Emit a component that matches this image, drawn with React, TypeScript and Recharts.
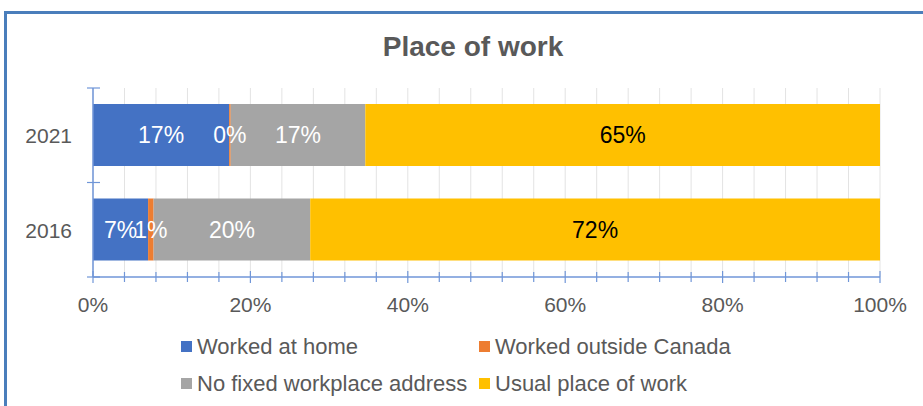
import * as React from 'react';
import {
  BarChart,
  Bar,
  XAxis,
  YAxis,
  CartesianGrid,
  LabelList,
} from 'recharts';

// values (percent of workers)
const YEARS = ['2021', '2016'];
const HOME = [17.3, 7.0];
const OUTSIDE = [0.2, 0.7];
const NO_FIXED = [17.1, 19.9];
const USUAL = [65.4, 72.4];

const X_TICKS = [0, 4, 8, 12, 16, 20, 24, 28, 32, 36, 40, 44, 48, 52, 56, 60, 64, 68, 72, 76, 80, 84, 88, 92, 96, 100];

const SERIES = [
  { key: 'home', name: 'Worked at home', color: '#4472C4', text: '#ffffff' },
  { key: 'outside', name: 'Worked outside Canada', color: '#ED7D31', text: '#ffffff' },
  { key: 'noFixed', name: 'No fixed workplace address', color: '#A5A5A5', text: '#ffffff' },
  { key: 'usual', name: 'Usual place of work', color: '#FFC000', text: '#000000' },
];

const data = YEARS.map((year, i) => ({
  year,
  home: HOME[i],
  outside: OUTSIDE[i],
  noFixed: NO_FIXED[i],
  usual: USUAL[i],
}));

const GREY = '#595959';
const AXIS = '#7096D8';
const BAND = 94.5;

const pct = (v: any) => `${Math.round(Number(v))}%`;

const XTick = (props: any) => {
  const { x, y, payload } = props;
  const major = payload.value % 20 === 0;
  const h = major ? 6 : 5;
  return (
    <g>
      <line x1={x} x2={x} y1={y - h} y2={y + h} stroke={AXIS} strokeWidth={1.2} />
      {major && (
        <text x={x} y={y + 35} textAnchor="middle" fill={GREY} fontSize={21}>
          {payload.value}%
        </text>
      )}
    </g>
  );
};

const YTick = (props: any) => {
  const { x, y, payload, index } = props;
  return (
    <g>
      <line x1={x - 6} x2={x + 7} y1={y - BAND / 2} y2={y - BAND / 2} stroke={AXIS} strokeWidth={1.2} />
      {index === YEARS.length - 1 && (
        <line x1={x - 6} x2={x + 7} y1={y + BAND / 2} y2={y + BAND / 2} stroke={AXIS} strokeWidth={1.2} />
      )}
      <text x={x - 21} y={y + 8} textAnchor="end" fill={GREY} fontSize={21}>
        {payload.value}
      </text>
    </g>
  );
};

const LegendGrid = () => (
  <div
    style={{
      position: 'absolute',
      left: 181,
      top: 334,
      display: 'grid',
      gridTemplateColumns: '298px 300px',
      rowGap: 12,
      fontSize: 22,
      color: GREY,
    }}
  >
    {SERIES.map((s) => (
      <div key={s.key} style={{ display: 'flex', alignItems: 'center', height: 25, whiteSpace: 'nowrap' }}>
        <span style={{ width: 11, height: 11, background: s.color, marginRight: 5, display: 'inline-block' }} />
        {s.name}
      </div>
    ))}
  </div>
);

export default function App() {
  return (
    <div
      style={{
        position: 'absolute',
        left: 0,
        top: 0,
        width: 923,
        height: 406,
        overflow: 'hidden',
        background: '#fff',
        fontFamily: '"Liberation Sans", Arial, sans-serif',
      }}
    >
      <div
        style={{
          position: 'absolute',
          left: 4,
          top: 11,
          width: 1000,
          height: 500,
          border: '3px solid #4A7EBB',
        }}
      />
      <div
        style={{
          position: 'absolute',
          left: 0,
          top: 31,
          width: 946,
          textAlign: 'center',
          fontSize: 28,
          fontWeight: 'bold',
          color: GREY,
        }}
      >
        Place of work
      </div>
      <div style={{ position: 'absolute', left: 0, top: 0 }}>
        <BarChart
          width={923}
          height={406}
          data={data}
          layout="vertical"
          margin={{ top: 88, right: 43, bottom: 99, left: 0 }}
          barSize={62}
        >
          <CartesianGrid horizontal={false} stroke="#E3E3E3" />
          <XAxis
            type="number"
            domain={[0, 100]}
            ticks={X_TICKS}
            interval={0}
            tick={<XTick />}
            tickLine={false}
            tickSize={0}
            tickMargin={0}
            height={30}
            axisLine={{ stroke: AXIS, strokeWidth: 1.5 }}
          />
          <YAxis
            type="category"
            dataKey="year"
            width={93}
            tick={<YTick />}
            tickLine={false}
            tickSize={0}
            tickMargin={0}
            axisLine={{ stroke: AXIS, strokeWidth: 1.5 }}
          />
          {SERIES.map((s) => (
            <Bar
              key={s.key}
              dataKey={s.key}
              name={s.name}
              stackId="a"
              fill={s.color}
              isAnimationActive={false}
            >
              <LabelList
                dataKey={s.key}
                position="center"
                formatter={pct}
                fill={s.text}
                fontSize={23}
              />
            </Bar>
          ))}
        </BarChart>
      </div>
      <LegendGrid />
    </div>
  );
}
